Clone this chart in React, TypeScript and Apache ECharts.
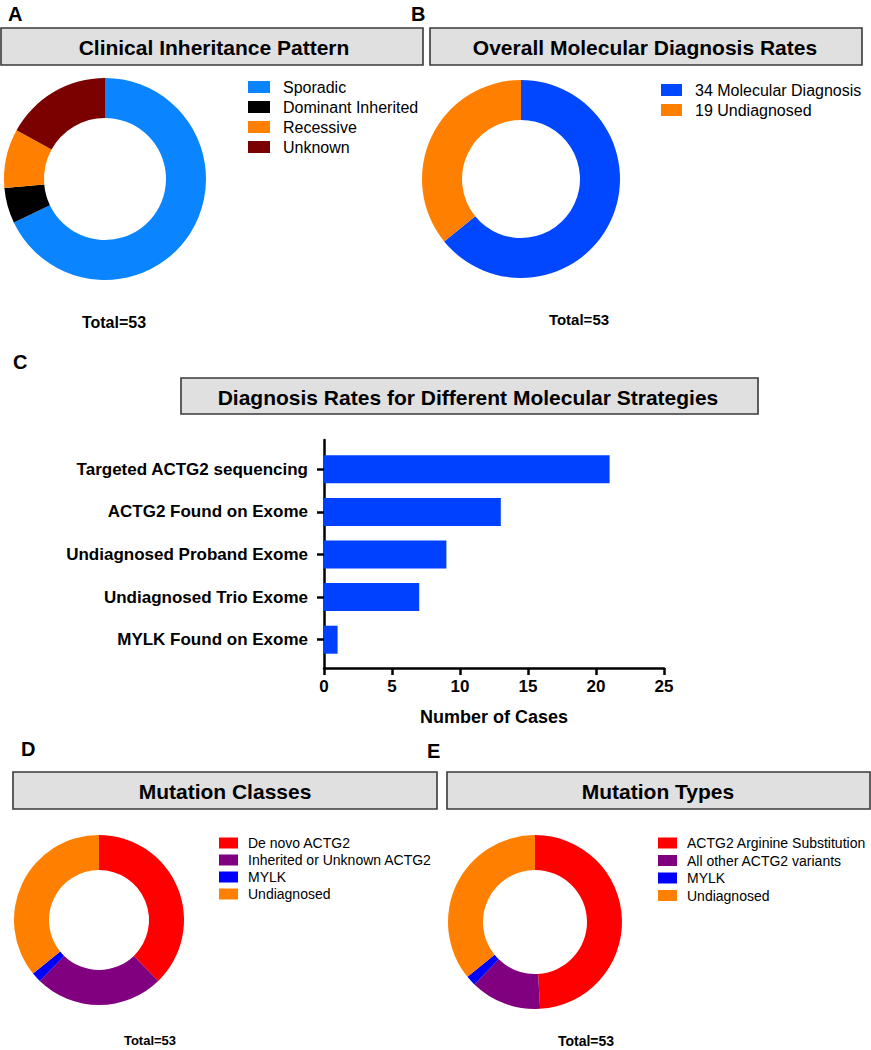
import React, { useEffect, useRef } from "react";
import * as echarts from "echarts";

const FONT = "'Liberation Sans', Arial, Helvetica, sans-serif";

const inheritanceNames = ["Sporadic", "Dominant Inherited", "Recessive", "Unknown"];
const inheritanceValues = [36, 3, 5, 9];
const inheritanceColors = ["#0A84FF", "#000000", "#FF8000", "#7B0000"];

const overallNames = ["34 Molecular Diagnosis", "19 Undiagnosed"];
const overallValues = [34, 19];
const overallColors = ["#0047FF", "#FF8000"];

const strategyNames = [
  "Targeted ACTG2 sequencing",
  "ACTG2 Found on Exome",
  "Undiagnosed Proband Exome",
  "Undiagnosed Trio Exome",
  "MYLK Found on Exome",
];
const strategyValues = [21, 13, 9, 7, 1];
const casesMin = 0;
const casesMax = 25;
const casesStep = 5;

const classNames = ["De novo ACTG2", "Inherited or Unknown ACTG2", "MYLK", "Undiagnosed"];
const classValues = [20, 13, 1, 19];

const typeNames = ["ACTG2 Arginine Substitution", "All other ACTG2 variants", "MYLK", "Undiagnosed"];
const typeValues = [26, 7, 1, 19];

const mutationColors = ["#FF0000", "#800080", "#0000FF", "#FF8000"];

function pieData(names: string[], values: number[], colors: string[]) {
  return names.map((n, i) => ({ name: n, value: values[i], itemStyle: { color: colors[i] } }));
}

function pieSeries(id: string, center: number[], radius: number[], data: any[]) {
  return {
    type: "pie",
    id,
    center,
    radius,
    startAngle: 90,
    clockwise: true,
    silent: true,
    label: { show: false },
    labelLine: { show: false },
    data,
  };
}

function titleBox(x: number, y: number, w: number, h: number, text: string, cx: number) {
  return [
    {
      type: "rect",
      shape: { x, y, width: w, height: h },
      style: { fill: "#E0E0E0", stroke: "#3A3A3A", lineWidth: 1.6 },
      silent: true,
    },
    {
      type: "text",
      style: {
        text,
        x: cx,
        y: y + h / 2 + 1,
        align: "center",
        verticalAlign: "middle",
        font: `bold 21px ${FONT}`,
        fill: "#000",
      },
      silent: true,
    },
  ];
}

function label(text: string, x: number, y: number, size: number, align = "left") {
  return {
    type: "text",
    style: {
      text,
      x,
      y,
      align,
      verticalAlign: "middle",
      font: `bold ${size}px ${FONT}`,
      fill: "#000",
    },
    silent: true,
  };
}

function legend(names: string[], left: number, top: number, w: number, h: number, fs: number, gap: number, pad: number) {
  return {
    data: names,
    orient: "vertical",
    left,
    top,
    icon: "rect",
    itemWidth: w,
    itemHeight: h,
    itemGap: gap,
    selectedMode: false,
    padding: 0,
    textStyle: {
      fontFamily: FONT,
      fontSize: fs,
      color: "#000",
      lineHeight: fs,
      padding: [0, 0, 0, pad],
    },
  };
}

export default function App() {
  const ref = useRef<HTMLDivElement>(null);
  useEffect(() => {
    if (!ref.current) return;
    const chart = echarts.init(ref.current, undefined, { renderer: "svg" });
    const axisLineStyle = { color: "#000", width: 2.5 };
    const option: any = {
      animation: false,
      backgroundColor: "#FFFFFF",
      textStyle: { fontFamily: FONT },
      legend: [
        legend(inheritanceNames, 248, 79, 22, 12, 16, 4, 8),
        legend(overallNames, 661, 82, 21, 12, 16, 4, 8),
        legend(classNames, 219, 836, 19, 11, 14, 3, 5),
        legend(typeNames, 658, 836, 19, 11, 14, 3.5, 5),
      ],
      grid: [
        // bars
        { left: 324, top: 448, width: 340, height: 213, containLabel: false },
        // axis frame
        { left: 324, top: 440, width: 340, height: 228, containLabel: false },
      ],
      xAxis: [
        {
          gridIndex: 0,
          type: "value",
          min: casesMin,
          max: casesMax,
          interval: casesStep,
          show: false,
        },
        {
          gridIndex: 1,
          type: "value",
          min: casesMin,
          max: casesMax,
          interval: casesStep,
          name: "Number of Cases",
          nameLocation: "middle",
          nameGap: 40,
          nameTextStyle: { fontFamily: FONT, fontWeight: "bold", fontSize: 18, color: "#000" },
          axisLine: { show: true, lineStyle: axisLineStyle },
          axisTick: { show: true, length: 7, lineStyle: axisLineStyle },
          axisLabel: { fontFamily: FONT, fontWeight: "bold", fontSize: 17, color: "#000", margin: 10 },
          splitLine: { show: false },
        },
      ],
      yAxis: [
        {
          gridIndex: 0,
          type: "category",
          inverse: true,
          data: strategyNames,
          axisLine: { show: false },
          axisTick: { show: true, length: 7, alignWithLabel: true, lineStyle: axisLineStyle },
          axisLabel: { fontFamily: FONT, fontWeight: "bold", fontSize: 17, color: "#000", margin: 16 },
          splitLine: { show: false },
        },
        {
          gridIndex: 1,
          type: "value",
          min: 0,
          max: 1,
          axisLine: { show: true, lineStyle: axisLineStyle },
          axisTick: { show: false },
          axisLabel: { show: false },
          splitLine: { show: false },
        },
      ],
      series: [
        pieSeries("A", [105, 179], [61, 101], pieData(inheritanceNames, inheritanceValues, inheritanceColors)),
        pieSeries("B", [521, 179], [59, 99], pieData(overallNames, overallValues, overallColors)),
        {
          type: "bar",
          xAxisIndex: 0,
          yAxisIndex: 0,
          data: strategyValues,
          barWidth: 28,
          silent: true,
          itemStyle: { color: "#0040FF" },
        },
        pieSeries("D", [99, 920], [50, 85], pieData(classNames, classValues, mutationColors)),
        pieSeries("E", [535, 922], [52, 87], pieData(typeNames, typeValues, mutationColors)),
      ],
      graphic: [
        ...titleBox(1, 28, 422, 37, "Clinical Inheritance Pattern", 214),
        ...titleBox(430, 28, 432, 37, "Overall Molecular Diagnosis Rates", 645),
        ...titleBox(181, 378, 577, 36, "Diagnosis Rates for Different Molecular Strategies", 468),
        ...titleBox(13, 772, 424, 37, "Mutation Classes", 225),
        ...titleBox(447, 772, 423, 37, "Mutation Types", 658),
        label("A", 8, 14, 20),
        label("B", 411, 14, 20),
        label("C", 13, 362, 20),
        label("D", 21, 749, 20),
        label("E", 427, 751, 20),
        label("Total=53", 114, 322, 16, "center"),
        label("Total=53", 579, 319, 15, "center"),
        label("Total=53", 150, 1040, 13, "center"),
        label("Total=53", 586, 1041, 14, "center"),
      ],
    };
    chart.setOption(option);
    return () => chart.dispose();
  }, []);
  return (
    <div
      ref={ref}
      style={{ position: "absolute", left: 0, top: 0, width: 871, height: 1050, background: "#fff" }}
    />
  );
}
